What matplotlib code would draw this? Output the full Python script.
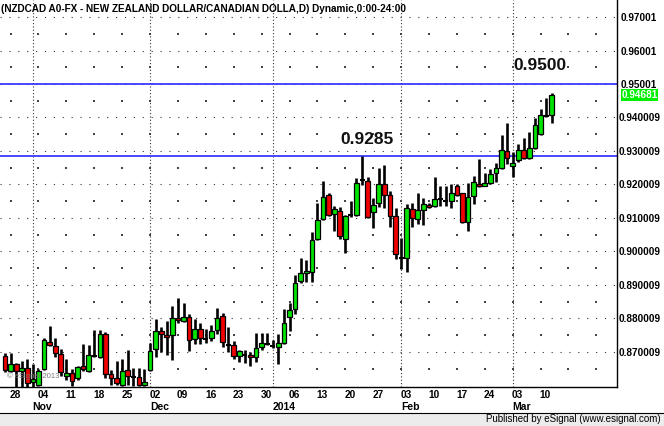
import matplotlib

matplotlib.use("Agg")
import matplotlib.pyplot as plt
import matplotlib.transforms as mtransforms
from matplotlib.patches import Rectangle
import pandas as pd

# daily NZDCAD bars, 25 Oct 2013 .. 12 Mar 2014 (weekdays)
dates = pd.bdate_range("2013-10-25", "2014-03-12")

opens = [
    0.8688, 0.8644, 0.8663, 0.8643, 0.8651, 0.8610, 0.8601, 0.8648, 0.8731, 0.8718,
    0.8694, 0.8628, 0.8636, 0.8621, 0.8658, 0.8644, 0.8688, 0.8684, 0.8753, 0.8633,
    0.8621, 0.8601, 0.8646, 0.8627, 0.8626, 0.8601, 0.8646, 0.8708, 0.8763, 0.8750,
    0.8751, 0.8800, 0.8792, 0.8805, 0.8738, 0.8768, 0.8739, 0.8741, 0.8765, 0.8807,
    0.8722, 0.8721, 0.8689, 0.8690, 0.8690, 0.8686, 0.8716, 0.8724, 0.8717, 0.8714,
    0.8726, 0.8803, 0.8827, 0.8912, 0.8935, 0.8940, 0.9036, 0.9096, 0.9169, 0.9112,
    0.9121, 0.9036, 0.9108, 0.9109, 0.9212, 0.9211, 0.9119, 0.9146, 0.9201, 0.9169,
    0.9106, 0.8982, 0.8980, 0.9126, 0.9096, 0.9124, 0.9139, 0.9136, 0.9157, 0.9150,
    0.9152, 0.9195, 0.9174, 0.9089, 0.9166, 0.9201, 0.9195, 0.9203, 0.9235, 0.9250,
    0.9301, 0.9255, 0.9273, 0.9303, 0.9278, 0.9308, 0.9351, 0.9406, 0.9407,
]
highs = [
    0.8697, 0.8696, 0.8668, 0.8674, 0.8679, 0.8664, 0.8649, 0.8741, 0.8777, 0.8741,
    0.8709, 0.8678, 0.8648, 0.8659, 0.8724, 0.8721, 0.8765, 0.8765, 0.8760, 0.8646,
    0.8674, 0.8678, 0.8706, 0.8651, 0.8651, 0.8649, 0.8727, 0.8797, 0.8774, 0.8793,
    0.8837, 0.8860, 0.8846, 0.8812, 0.8797, 0.8785, 0.8768, 0.8780, 0.8830, 0.8815,
    0.8774, 0.8734, 0.8706, 0.8706, 0.8701, 0.8756, 0.8757, 0.8757, 0.8736, 0.8753,
    0.8827, 0.8845, 0.8930, 0.8980, 0.8974, 0.9059, 0.9144, 0.9210, 0.9174, 0.9136,
    0.9134, 0.9109, 0.9152, 0.9218, 0.9285, 0.9223, 0.9159, 0.9248, 0.9258, 0.9181,
    0.9129, 0.9039, 0.9142, 0.9144, 0.9175, 0.9159, 0.9146, 0.9221, 0.9195, 0.9195,
    0.9201, 0.9201, 0.9175, 0.9205, 0.9225, 0.9275, 0.9235, 0.9245, 0.9263, 0.9348,
    0.9383, 0.9298, 0.9320, 0.9338, 0.9356, 0.9399, 0.9424, 0.9457, 0.9474,
]
lows = [
    0.8640, 0.8639, 0.8590, 0.8590, 0.8590, 0.8590, 0.8597, 0.8646, 0.8719, 0.8684,
    0.8628, 0.8616, 0.8597, 0.8616, 0.8644, 0.8641, 0.8684, 0.8681, 0.8621, 0.8601,
    0.8601, 0.8598, 0.8601, 0.8598, 0.8598, 0.8598, 0.8644, 0.8684, 0.8699, 0.8691,
    0.8676, 0.8785, 0.8789, 0.8703, 0.8724, 0.8723, 0.8726, 0.8734, 0.8753, 0.8714,
    0.8701, 0.8678, 0.8670, 0.8668, 0.8658, 0.8671, 0.8706, 0.8721, 0.8711, 0.8663,
    0.8724, 0.8762, 0.8813, 0.8905, 0.8910, 0.8910, 0.9034, 0.9093, 0.9106, 0.9062,
    0.9036, 0.8996, 0.9104, 0.9106, 0.9198, 0.9099, 0.9069, 0.9134, 0.9129, 0.9074,
    0.8977, 0.8947, 0.8940, 0.9074, 0.9082, 0.9079, 0.9131, 0.9134, 0.9136, 0.9136,
    0.9129, 0.9166, 0.9086, 0.9062, 0.9142, 0.9193, 0.9195, 0.9201, 0.9208, 0.9245,
    0.9261, 0.9223, 0.9268, 0.9275, 0.9275, 0.9305, 0.9348, 0.9400, 0.9384,
]
closes = [
    0.8646, 0.8664, 0.8643, 0.8652, 0.8606, 0.8620, 0.8644, 0.8736, 0.8721, 0.8696,
    0.8641, 0.8638, 0.8613, 0.8656, 0.8649, 0.8691, 0.8690, 0.8753, 0.8634, 0.8623,
    0.8606, 0.8643, 0.8628, 0.8626, 0.8601, 0.8611, 0.8703, 0.8763, 0.8753, 0.8744,
    0.8800, 0.8795, 0.8803, 0.8736, 0.8768, 0.8741, 0.8738, 0.8762, 0.8800, 0.8729,
    0.8721, 0.8689, 0.8703, 0.8689, 0.8684, 0.8713, 0.8726, 0.8723, 0.8716, 0.8726,
    0.8787, 0.8825, 0.8905, 0.8935, 0.8942, 0.9034, 0.9094, 0.9164, 0.9109, 0.9126,
    0.9046, 0.9106, 0.9109, 0.9203, 0.9213, 0.9102, 0.9139, 0.9201, 0.9169, 0.9106,
    0.8992, 0.8980, 0.9129, 0.9099, 0.9124, 0.9142, 0.9134, 0.9156, 0.9156, 0.9149,
    0.9174, 0.9169, 0.9089, 0.9162, 0.9208, 0.9195, 0.9205, 0.9231, 0.9248, 0.9303,
    0.9278, 0.9265, 0.9303, 0.9278, 0.9308, 0.9378, 0.9407, 0.9404, 0.9468,
]

price_ticks = [0.87, 0.88, 0.89, 0.90, 0.91, 0.92, 0.93, 0.94, 0.95, 0.96, 0.97]
price_labels = ["0.870009", "0.880009", "0.890009", "0.900009", "0.910009", "0.920009",
                "0.930009", "0.940009", "0.95001", "0.96001", "0.97001"]
levels = [0.9500, 0.9285]
level_labels = ["0.9500", "0.9285"]
last_label = "0.94681"
title = "(NZDCAD A0-FX - NEW ZEALAND DOLLAR/CANADIAN DOLLA,D) Dynamic,0:00-24:00"

W, H = 664, 426
FONT = ["Liberation Sans", "DejaVu Sans"]
GREEN = "#00e400"
RED = "#f00000"

fig = plt.figure(figsize=(W / 100, H / 100), dpi=100)
fig.patch.set_facecolor("white")
ax = fig.add_axes([0, 1 - 387 / H, 617 / W, 387 / H])

n = len(dates)
xs = list(range(n))
# extend the calendar a few weeks to the right, like the platform does
cal = pd.bdate_range(dates[0], periods=n + 12)
mondays = [i for i, d in enumerate(cal) if d.weekday() == 0]
month_starts = [i for i in range(1, n) if cal[i].month != cal[i - 1].month]

ax.set_xlim(-0.9, 109.7)
ax.set_ylim(0.85953, 0.97508)

# grid: dense dotted rows at the labelled levels, dotted month separators,
# sparse dots on weekly columns at the half levels
for p in price_ticks:
    ax.axhline(p, color="#333333", lw=0.8, ls=(0, (1, 7)), zorder=0.5)
for i in month_starts:
    ax.axvline(i, color="#333333", lw=0.8, ls=(0, (1, 2)), zorder=0.5)
half = [p + 0.005 for p in price_ticks[:-1]] + [0.865]
wx = [m for m in mondays for _ in half]
wy = [p for _ in mondays for p in half]
ax.scatter(wx, wy, s=1.2, marker="s", color="#444444", linewidths=0, zorder=0.5)

for lv in levels:
    ax.axhline(lv, color="#3a3aff", lw=1.3, zorder=1)

# candles
ax.vlines(xs, lows, highs, color="black", lw=1.9, zorder=2)
for x, o, c in zip(xs, opens, closes):
    if abs(c - o) < 0.00025:
        ax.hlines((o + c) / 2, x - 0.45, x + 0.45, color="black", lw=1.5, zorder=3)
        continue
    col = GREEN if c > o else RED
    ax.add_patch(Rectangle((x - 0.42, min(o, c)), 0.84, abs(c - o),
                           facecolor=col, edgecolor="black", lw=0.9, zorder=3))

# level annotations
ax.text(95.9, 0.9554, level_labels[0], ha="center", va="center", fontsize=12.5,
        fontweight="bold", family=FONT, color="#111111", zorder=4)
ax.text(64.8, 0.9333, level_labels[1], ha="center", va="center", fontsize=12.5,
        fontweight="bold", family=FONT, color="#111111", zorder=4)

ax.text(0.3, 0.8628, "\u00a9 eSignal 2013", ha="left", va="center", fontsize=5.5,
        family=FONT, color="#777777", zorder=4)

# axes frame
for side in ("left", "top"):
    ax.spines[side].set_visible(False)
for side in ("right", "bottom"):
    ax.spines[side].set_color("black")
    ax.spines[side].set_linewidth(1.0)

ax.set_xticks([])
ax.yaxis.tick_right()
ax.set_yticks(price_ticks)
ax.set_yticklabels(price_labels)
ax.tick_params(axis="y", length=0, pad=16)
for lbl in ax.get_yticklabels():
    lbl.set_ha("center")
    lbl.set_fontsize(7.2)
    lbl.set_fontweight("bold")
    lbl.set_family(FONT)

# current price box
trans = mtransforms.blended_transform_factory(fig.transFigure, ax.transData)
ax.text(639.5 / W, closes[-1], last_label, transform=trans, ha="center",
        va="center", fontsize=7.2, fontweight="bold", family=FONT, color="white",
        bbox=dict(boxstyle="square,pad=0.08", facecolor="#00f000", edgecolor="none"),
        zorder=5)

# date labels, left aligned on the weekly columns
trans_x = mtransforms.blended_transform_factory(ax.transData, fig.transFigure)
for m in mondays:
    if m >= n:
        continue
    fig.text(m - 0.15, 1 - 395 / H, cal[m].strftime("%d"), transform=trans_x,
             ha="left", va="center", fontsize=7.3, fontweight="bold", family=FONT)
for i in month_starts:
    name = "2014" if cal[i].month == 1 else cal[i].strftime("%b")
    fig.text(i - 0.05, 1 - 407.5 / H, name, transform=trans_x, ha="left", va="center",
             fontsize=7.5, fontweight="bold", family=FONT)

fig.text(1 / W, 1 - 9 / H, title, ha="left", va="center", fontsize=7.2,
         fontweight="bold", family=FONT)

# footer strip
fig.patches.append(Rectangle((0, 0), 1, (H - 413) / H, transform=fig.transFigure,
                             facecolor="#ececec", edgecolor="none", zorder=0))
fig.add_artist(plt.Line2D([0, 1], [(H - 413) / H] * 2, transform=fig.transFigure,
                          color="black", lw=0.8))
fig.text(661 / W, 1 - 419.5 / H, "Published by eSignal (www.esignal.com)", ha="right",
         va="center", fontsize=7, family=FONT)

fig.savefig("out.png", dpi=100)
